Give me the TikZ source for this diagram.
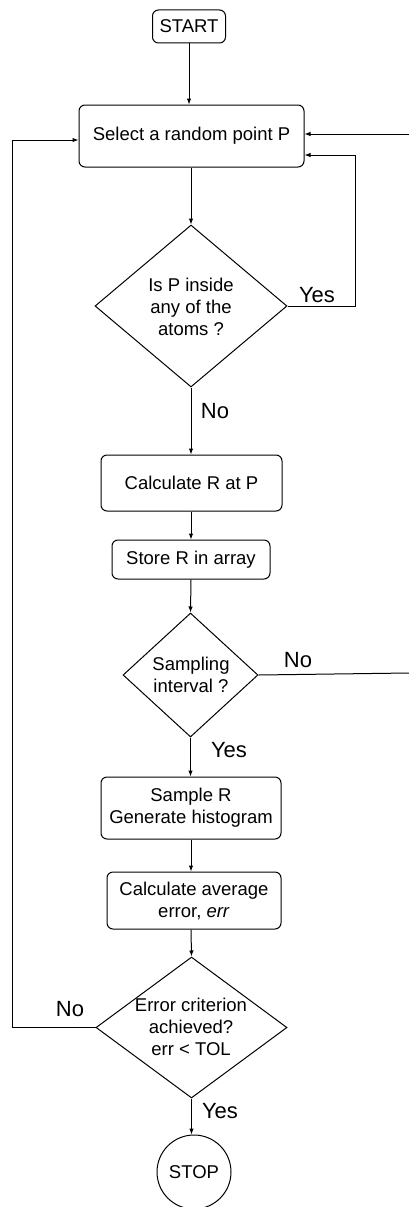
\documentclass[tikz,border=0pt]{standalone}
\usepackage{fontspec}
\setmainfont{Liberation Sans}
\usetikzlibrary{shapes.geometric,arrows.meta}
\begin{document}
\begin{tikzpicture}[x=1pt,y=1pt,
  line width=1pt,
  box/.style={draw,rounded corners=6pt,inner sep=0pt,align=center,font=\fontsize{18.5}{22}\selectfont},
  dia/.style={draw,diamond,inner sep=0pt},
  dtext/.style={align=center,font=\fontsize{18.5}{22}\selectfont},
  lab/.style={font=\fontsize{22}{26}\selectfont,inner sep=0pt},
  arr/.style={-{Latex[length=6pt,width=4.5pt]}}]
\useasboundingbox (0,0) rectangle (409,-1207);
% nodes
\node[box,minimum width=73pt,minimum height=33pt] (start) at (189,-26.5) {START};
\node[box,minimum width=225pt,minimum height=62pt] (sel) at (191.5,-136) {Select a random point P};
\node[dia,minimum width=192pt,minimum height=162pt] (d1) at (191,-306) {};
\node[dtext] (d1t) at (191,-307) {Is P inside\\any of the\\atoms ?};
\node[box,minimum width=181pt,minimum height=56pt] (calc) at (191.5,-483) {Calculate R at P};
\node[box,minimum width=158pt,minimum height=39pt] (store) at (191,-559.5) {Store R in array};
\node[dia,minimum width=135pt,minimum height=124pt] (d2) at (190.5,-675) {};
\node[dtext] (d2t) at (191,-675) {Sampling\\interval ?};
\node[box,minimum width=180pt,minimum height=62pt] (sample) at (191,-808) {Sample R\\Generate histogram};
\node[box,minimum width=174pt,minimum height=57pt] (avg) at (194,-900.5) {Calculate average\\error, \textit{err}};
\node[dia,minimum width=191pt,minimum height=141pt] (d3) at (191.5,-1027.5) {};
\node[dtext] (d3t) at (191,-1027) {Error criterion\\achieved?\\err < TOL};
\node[draw,circle,minimum size=74pt,inner sep=0pt,font=\fontsize{18.5}{22}\selectfont] (stop) at (194,-1172) {STOP};
% labels
\node[lab] (yes1) at (317,-295) {Yes};
\node[lab] (no1) at (215,-411) {No};
\node[lab] (no2) at (298,-660) {No};
\node[lab] (yes2) at (229,-750) {Yes};
\node[lab] (no3) at (70,-1009) {No};
\node[lab] (yes3) at (220,-1111) {Yes};
% free ends
\coordinate (rA) at (409,-134);
\coordinate (rB) at (409,-673);
\coordinate (lA) at (12,-1027.5);
\coordinate (rC) at (355,-306);
% connectors
\draw[arr] (start) -- (start |- sel.north);
\draw[arr] (sel.south -| 191,0) -- (d1.north);
\draw[arr] (d1.south) -- (d1.south |- calc.north);
\draw[arr] (calc.south -| 191,0) -- (store.north -| 191,0);
\draw[arr] (store.south -| 191,0) -- (d2.north);
\draw[arr] (d2.south) -- (d2.south |- sample.north);
\draw[arr] (sample.south -| 191,0) -- (avg.north -| 191,0);
\draw[arr] (avg.south -| 191,0) -- (d3.north);
\draw[arr] (d3.south) -- (d3.south |- stop.north);
\draw[arr] (d1.east) -- (rC) |- ([yshift=-19pt]sel.east);
\draw[arr] (rA) -- (rA -| sel.east);
\draw (d2.east) -- (rB);
\draw[arr] (d3.west) -- (lA) |- ([yshift=-4pt]sel.west);
\end{tikzpicture}
\end{document}
